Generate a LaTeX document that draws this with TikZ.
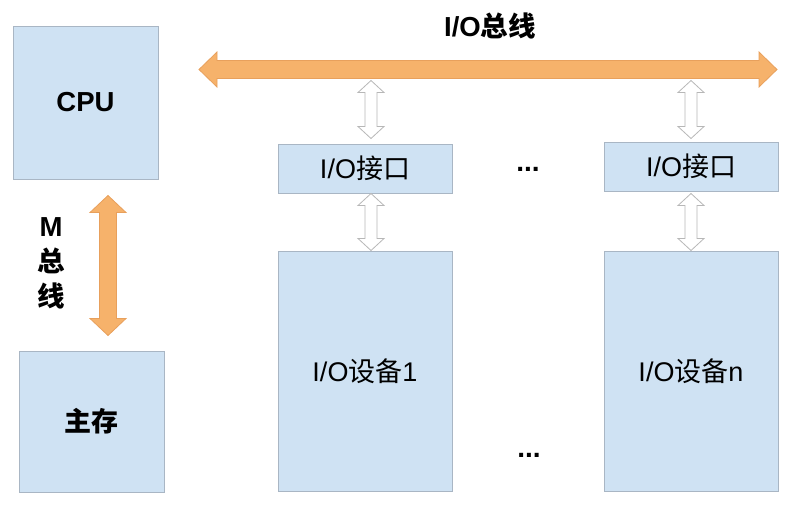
\documentclass[tikz,border=0pt]{standalone}
\usepackage{fontspec}
\setmainfont{Liberation Sans}
\newfontfamily\cjk{Noto Sans CJK SC}
\newcommand{\zh}[1]{{\cjk #1}}
\usetikzlibrary{calc}

\definecolor{boxFill}{HTML}{CFE2F3}
\definecolor{boxLine}{HTML}{A9B6C4}
\definecolor{busFill}{HTML}{F6B26B}
\definecolor{busLine}{HTML}{E8A05C}
\definecolor{linkLine}{HTML}{B7B7B7}

\begin{document}
\begin{tikzpicture}
[x=1pt,y=-1pt,
  boxDecorate/.style={draw=boxLine,fill=boxFill,line width=1pt,inner sep=0pt,
    font=\fontsize{27}{32}\selectfont},
  busDecorate/.style={draw=busLine,fill=busFill,line width=0.8pt},
  linkDecorate/.style={draw=linkLine,fill=white,line width=0.8pt},
  labelDecorate/.style={font=\fontsize{27.5}{35}\selectfont\bfseries,align=center},
  dotsDecorate/.style={font=\fontsize{28}{32}\selectfont\bfseries}]
\useasboundingbox (0,0) rectangle (796,509);
%% boxes
\node (cpu) at (85.5,102.5) [boxDecorate,minimum width=145,minimum height=153] {\fontsize{27.5}{32}\selectfont\bfseries CPU};
\node (mem) at (91.5,421.5) [boxDecorate,minimum width=145,minimum height=141] {\bfseries\zh{主存}};
\foreach \nodename/\x/\y/\h/\txt in {
  if1/365/168.5/49/{I/O\zh{接口}},
  ifn/691/166.5/49/{I/O\zh{接口}},
  dev1/365/371/240/{I/O\zh{设备}1},
  devn/691/371/240/{I/O\zh{设备}n}}
{
  \node (\nodename) at (\x,\y) [boxDecorate,minimum width=174,minimum height=\h] {\txt};
}
%% labels
\node (busLabel) at (490,26) [labelDecorate] {I/O\zh{总线}};
\node (mLabel) at (51,263) [labelDecorate] {M\\\zh{总}\\\zh{线}};
\node (dotsTop) at (528,169) [dotsDecorate] {...};
\node (dotsBottom) at (529,455) [dotsDecorate] {...};
%% buses
\coordinate (busL) at (199,69.5);
\coordinate (busR) at (777,69.5);
\draw[busDecorate] (busL) -- ++(18,-17.5) -- ++(0,8.5) -- ($(busR)+(-18,-9)$)
  -- ++(0,-8.5) -- (busR) -- ++(-18,17.5) -- ++(0,-8.5) -- ($(busL)+(18,9)$)
  -- ++(0,8.5) -- cycle;
\coordinate (mTop) at ($(cpu.south)+(22.5,16)$);
\coordinate (mBot) at ($(mem.north)+(16.5,-15)$);
\draw[busDecorate] (mTop) -- ++(18,17) -- ++(-9.5,0) -- ($(mBot)+(8.5,-17)$)
  -- ++(9.5,0) -- (mBot) -- ++(-18,-17) -- ++(9.5,0) -- ($(mTop)+(-8.5,17)$)
  -- ++(-9.5,0) -- cycle;
%% links
\coordinate (t1) at ($(if1.north)+(6,-63)$);
\coordinate (u1) at ($(if1.north)+(6,-5)$);
\coordinate (v1) at ($(if1.south)+(6,0)$);
\coordinate (w1) at ($(dev1.north)+(6,0)$);
\coordinate (tn) at ($(ifn.north)+(0,-61)$);
\coordinate (un) at ($(ifn.north)+(0,-3)$);
\coordinate (vn) at ($(ifn.south)+(0,2)$);
\coordinate (wn) at ($(devn.north)+(0,0)$);
\foreach \startnode/\endnode in {t1/u1, v1/w1, tn/un, vn/wn}
{
  \draw[linkDecorate] (\startnode) -- ++(13,12) -- ++(-7,0) -- ($(\endnode)+(6,-12)$)
    -- ++(7,0) -- (\endnode) -- ++(-13,-12) -- ++(7,0) -- ($(\startnode)+(-6,12)$)
    -- ++(-7,0) -- cycle;
}
\end{tikzpicture}
\end{document}
